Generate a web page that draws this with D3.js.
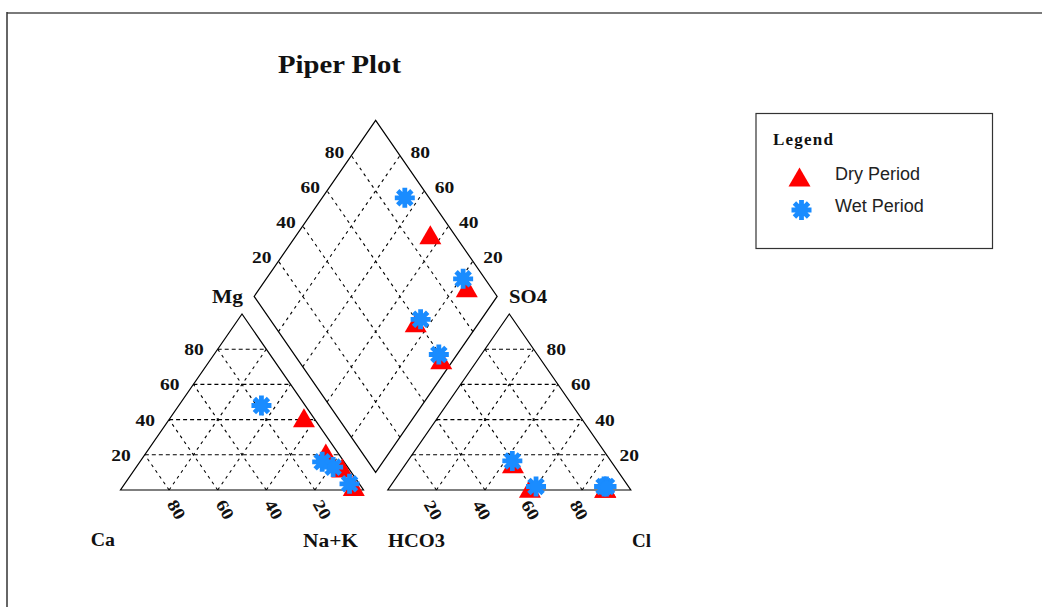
<!DOCTYPE html>
<html><head><meta charset="utf-8">
<script src="https://cdn.jsdelivr.net/npm/d3@7"></script>
<style>body{margin:0;background:#fff}svg{display:block}</style>
</head><body><svg id="c" width="1042" height="607"></svg>
<script>
// ---------- data ----------
const ticks = [20, 40, 60, 80];
const seriesNames = ["Dry Period", "Wet Period"];
const cornerLabels = ["Ca", "Mg", "Na+K", "HCO3", "SO4", "Cl"];
// Dry period samples (meq %)
const dryCa   = [4, 5, 2.5, 3];
const dryMg   = [41, 21, 12.5, 2];
const dryNaK  = [55, 74, 85, 95];
const dryHCO3 = [10, 41, 10, 41];
const drySO4  = [1, 1, 1, 15];
const dryCl   = [89, 58, 89, 44];
// Wet period samples (meq %)
const wetCa   = [18, 9, 6, 4];
const wetMg   = [48, 16, 13, 3.5];
const wetNaK  = [34, 75, 81, 92.5];
const wetHCO3 = [10, 38, 9, 40.5];
const wetSO4  = [2, 2, 2, 16.5];
const wetCl   = [88, 60, 89, 43];

// ---------- layout ----------
const svg = d3.select("#c");
const gap = 0.1;
const x = d3.scaleLinear().domain([0, 1]).range([120.5, 363.5]); // unit = triangle side
const y = d3.scaleLinear().domain([0, 1]).range([490, 314]);     // unit = triangle height
const P = ([a, b]) => [x(a), y(b)];
const line = d3.line().x(d => x(d[0])).y(d => y(d[1]));
const serif = "'Liberation Serif','Times New Roman',serif";
const sans = "'Liberation Sans',Arial,sans-serif";
const BLUE = "#1a8cff", RED = "#ff0000";

// frame
svg.append("line").attr("x1", 7).attr("y1", 13).attr("x2", 1042).attr("y2", 13).attr("stroke", "#7a7a7a").attr("stroke-width", 2);
svg.append("line").attr("x1", 7).attr("y1", 12).attr("x2", 7).attr("y2", 607).attr("stroke", "#333").attr("stroke-width", 1.5);

// composition -> unit coords
const cat = (mg, nak) => [nak / 100 + mg / 200, mg / 100];
const an = (so4, cl) => [1 + gap + cl / 100 + so4 / 200, so4 / 100];
const dia = (nak, hco3) => { const n = nak / 100, h = hco3 / 100; return [1 + gap / 2 + 0.5 * (n - h), gap + (2 - n - h)]; };
const Bv = [1 + gap / 2, gap];
const dp = (a, b) => [Bv[0] - 0.5 * a + 0.5 * b, Bv[1] + a + b]; // a along u, b along v

const gGrid = svg.append("g").attr("fill", "none").attr("stroke", "#000").attr("stroke-width", 1.1);
ticks.forEach(t => {
  const f = t / 100;
  [0, 1 + gap].forEach(o => {
    gGrid.append("path").attr("d", line([[o + f / 2, f], [o + 1 - f / 2, f]])).attr("stroke-dasharray", "4,3");
    gGrid.append("path").attr("d", line([[o + f, 0], [o + f + (1 - f) / 2, 1 - f]])).attr("stroke-dasharray", "3,4");
    gGrid.append("path").attr("d", line([[o + 1 - f, 0], [o + (1 - f) / 2, 1 - f]])).attr("stroke-dasharray", "3,4");
  });
  gGrid.append("path").attr("d", line([dp(f, 0), dp(f, 1)])).attr("stroke-dasharray", "3,4");
  gGrid.append("path").attr("d", line([dp(0, f), dp(1, f)])).attr("stroke-dasharray", "3,4");
});

// outlines
const gOut = svg.append("g").attr("fill", "none").attr("stroke", "#000").attr("stroke-width", 1.2);
gOut.append("path").attr("d", line([[0, 0], [1, 0], [0.5, 1]]) + "Z");
gOut.append("path").attr("d", line([[1 + gap, 0], [2 + gap, 0], [1.5 + gap, 1]]) + "Z");
gOut.append("path").attr("d", line([dp(0, 0), dp(0, 1), dp(1, 1), dp(1, 0)]) + "Z");

// tick labels
const gLab = svg.append("g").attr("font-family", serif).attr("font-weight", "bold").attr("font-size", 17).attr("fill", "#111");
const num = (px, py, t, anchor) => gLab.append("text").attr("x", px).attr("y", py).attr("text-anchor", anchor)
  .attr("textLength", 19.5).attr("lengthAdjust", "spacingAndGlyphs").text(t);
ticks.forEach(t => {
  const f = t / 100;
  let p = P([f / 2, f]); num(p[0] - 14 - 19.5, p[1] + 6, t, "start");          // Mg
  p = P([2 + gap - f / 2, f]); num(p[0] + 13, p[1] + 6, t, "start");          // SO4
  p = P(dp(1, f)); num(p[0] - 7 - 19.5, p[1] + 2, t, "start");                 // SO4+Cl
  p = P(dp(f, 1)); num(p[0] + 10.5, p[1] + 2, t, "start");                     // Ca+Mg
  // bottom rotated labels
  p = P([1 - f, 0]);
  gLab.append("text").attr("transform", `translate(${p[0] + 7.5},${509.5}) rotate(60)`)
    .attr("text-anchor", "middle").attr("dy", "0.35em").attr("textLength", 19.5).attr("lengthAdjust", "spacingAndGlyphs").text(t);
  p = P([1 + gap + f, 0]);
  gLab.append("text").attr("transform", `translate(${p[0] - 3},${510}) rotate(60)`)
    .attr("text-anchor", "middle").attr("dy", "0.35em").attr("textLength", 19.5).attr("lengthAdjust", "spacingAndGlyphs").text(t);
});

// corner labels
const corners = [[90.7, 546, 24.3], [212, 302.5, 31], [303, 546.5, 55], [388, 546.5, 57], [509, 302.5, 38], [632, 546.5, 19]];
cornerLabels.forEach((c, i) => {
  gLab.append("text").attr("x", corners[i][0]).attr("y", corners[i][1]).attr("font-size", 18.5).attr("textLength", corners[i][2])
    .attr("lengthAdjust", "spacingAndGlyphs").text(c);
});

// title
svg.append("text").attr("x", 278).attr("y", 73).attr("font-family", serif).attr("font-weight", "bold")
  .attr("font-size", 26).attr("textLength", 123).attr("lengthAdjust", "spacingAndGlyphs").attr("fill", "#111").text("Piper Plot");

// symbols
const triSym = { draw(ctx, size) { const s = Math.sqrt(size), h = s * Math.sqrt(3) / 2;
  ctx.moveTo(0, -h / 2); ctx.lineTo(s / 2, h / 2); ctx.lineTo(-s / 2, h / 2); ctx.closePath(); } };
const starSym = { draw(ctx, size) { const r = Math.sqrt(size) / 2;
  for (let k = 0; k < 4; k++) { const a = k * Math.PI / 4;
    ctx.moveTo(r * Math.cos(a), r * Math.sin(a)); ctx.lineTo(-r * Math.cos(a), -r * Math.sin(a)); } } };
const triPath = d3.symbol(triSym, 22 * 22)();
const starPath = d3.symbol(starSym, 20 * 20)();

function drawTri(g, px, py) {
  g.append("path").attr("transform", `translate(${px},${py})`).attr("d", triPath).attr("fill", RED);
}
function drawStar(g, px, py) {
  const s = g.append("g").attr("transform", `translate(${px},${py})`);
  s.append("path").attr("d", starPath).attr("stroke", BLUE).attr("stroke-width", 4.8).attr("fill", "none");
  s.append("circle").attr("r", 6).attr("fill", BLUE);
}

const gDry = svg.append("g");
dryCa.forEach((_, i) => {
  [cat(dryMg[i], dryNaK[i]), an(drySO4[i], dryCl[i]), dia(dryNaK[i], dryHCO3[i])].forEach(u => { const p = P(u); drawTri(gDry, p[0], p[1]); });
});
const gWet = svg.append("g");
wetCa.forEach((_, i) => {
  [cat(wetMg[i], wetNaK[i]), an(wetSO4[i], wetCl[i]), dia(wetNaK[i], wetHCO3[i])].forEach(u => { const p = P(u); drawStar(gWet, p[0], p[1]); });
});

// legend
const lg = svg.append("g");
lg.append("rect").attr("x", 756).attr("y", 113.5).attr("width", 236.5).attr("height", 135).attr("fill", "#fff").attr("stroke", "#333").attr("stroke-width", 1.2);
lg.append("text").attr("x", 773).attr("y", 144.5).attr("font-family", serif).attr("font-weight", "bold").attr("font-size", 17)
  .attr("textLength", 60).attr("lengthAdjust", "spacing").attr("fill", "#111").text("Legend");
drawTri(lg, 799.5, 177);
drawStar(lg, 801.5, 210);
lg.append("text").attr("x", 835).attr("y", 180).attr("font-family", sans).attr("font-size", 18).attr("fill", "#222").text(seriesNames[0]);
lg.append("text").attr("x", 835).attr("y", 211.7).attr("font-family", sans).attr("font-size", 18).attr("fill", "#222").text(seriesNames[1]);
</script>
</body></html>
